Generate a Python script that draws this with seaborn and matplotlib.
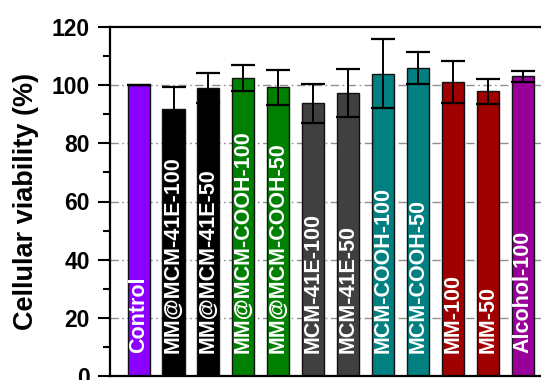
import matplotlib
matplotlib.use("Agg")
import matplotlib.pyplot as plt
import seaborn as sns
import pandas as pd
import numpy as np

samples = ["Control", "MM@MCM-41E-100", "MM@MCM-41E-50", "MM@MCM-COOH-100",
           "MM@MCM-COOH-50", "MCM-41E-100", "MCM-41E-50", "MCM-COOH-100",
           "MCM-COOH-50", "MM-100", "MM-50", "Alcohol-100"]
viability = [100.0, 91.7, 99.0, 102.4, 99.3, 93.7, 97.2, 103.9, 106.0, 101.1, 97.9, 103.0]
viability_sd = [0.0, 7.5, 5.3, 4.4, 6.0, 6.8, 8.2, 11.9, 5.5, 7.1, 4.3, 2.0]
bar_colors = ["#8c00ff", "#000000", "#000000", "#008000", "#008000", "#404040",
              "#404040", "#008080", "#008080", "#a00000", "#a00000", "#990099"]

sns.set_theme(style="white")
plt.rcParams["font.family"] = ["Liberation Sans", "DejaVu Sans"]
plt.rcParams["font.weight"] = "bold"
for key in ["text.color", "axes.labelcolor", "xtick.color", "ytick.color"]:
    plt.rcParams[key] = "black"

df = pd.DataFrame({"sample": samples, "viability": viability})

fig = plt.figure(figsize=(5.41, 3.80), dpi=100)
ax = fig.add_axes([110 / 541, 4 / 380, 441.6 / 541, 349 / 380])

# reference grid behind the bars
for g in [20, 40, 60, 80, 100]:
    ax.axhline(g, color="#8f8f8f", lw=1.0, ls=(0, (6, 2.5, 1.2, 2.5)), zorder=0)

sns.barplot(data=df, x="sample", y="viability", hue="sample", palette=bar_colors,
            order=samples, hue_order=samples, width=0.63, errorbar=None,
            saturation=1, edgecolor="#111111", linewidth=1.0, legend=False,
            ax=ax, zorder=2)

xpos = np.arange(len(samples))
ax.errorbar(xpos, viability, yerr=viability_sd, fmt="none", ecolor="black",
            elinewidth=1.4, capsize=8.5, capthick=1.6, zorder=3)

for x, name in zip(xpos, samples):
    ax.text(x, 8, name, rotation=90, ha="center", va="bottom", color="white",
            fontsize=15.5, fontweight="bold", zorder=4)

ax.set_xlim(-0.817, len(samples) - 1 + 0.817)
ax.set_ylim(0, 120)
ax.set_yticks([0, 20, 40, 60, 80, 100, 120])
ax.set_yticks([10, 30, 50, 70, 90, 110], minor=True)
ax.set_xticks([])
ax.set_xlabel("")
ax.set_ylabel("Cellular viability (%)", fontsize=19.5, fontweight="bold", labelpad=9)
ax.tick_params(axis="y", which="major", direction="out", length=8.5, width=1.5,
               labelsize=16.5, pad=6, left=True)
ax.tick_params(axis="y", which="minor", direction="out", length=5, width=1.5, left=True)
for lab in ax.get_yticklabels():
    lab.set_fontweight("bold")
for side in ["left", "top", "right", "bottom"]:
    ax.spines[side].set_color("black")
    ax.spines[side].set_linewidth(1.6)

fig.savefig("out.png", dpi=100)
